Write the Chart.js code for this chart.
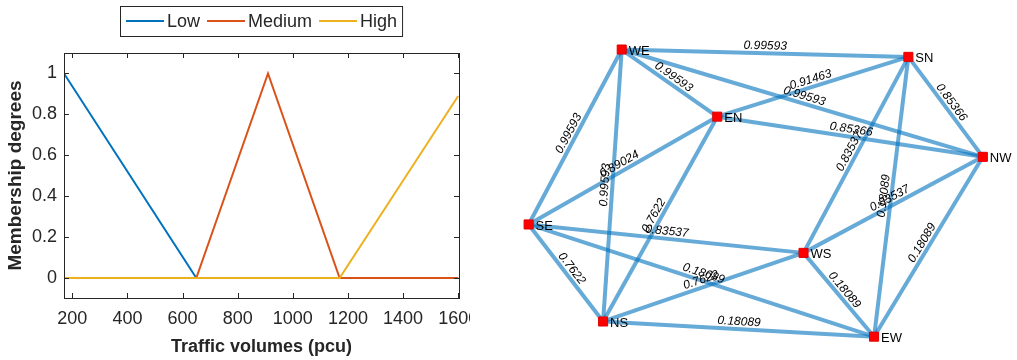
<!DOCTYPE html>
<html>
<head>
<meta charset="utf-8">
<script src="https://cdn.jsdelivr.net/npm/chart.js@4.4.1/dist/chart.umd.min.js"></script>
<style>
  html, body { margin: 0; padding: 0; background: #fff; }
  #wrap { position: relative; width: 1017px; height: 360px; overflow: hidden; }
  #mfChart { position: absolute; left: 0; top: 0; }
  #graphChart { position: absolute; left: 480px; top: 0; }
</style>
</head>
<body>
<div id="wrap">
  <canvas id="mfChart" width="470" height="360"></canvas>
  <canvas id="graphChart" width="537" height="360"></canvas>
</div>
<script>
// membership functions (left panel)
const seriesNames = ['Low', 'Medium', 'High'];
const lowX = [170, 650, 1600];
const lowY = [1, 0, 0];
const mediumX = [170, 650, 910, 1170, 1600];
const mediumY = [0, 0, 1, 0, 0];
const highX = [170, 1170, 1600];
const highY = [0, 0, 0.89];
const xTicks = [200, 400, 600, 800, 1000, 1200, 1400, 1600];
const yTicks = [0, 0.2, 0.4, 0.6, 0.8, 1];

// graph (right panel)
const nodeNames = ['WE', 'SN', 'EN', 'NW', 'SE', 'WS', 'NS', 'EW'];
const nodeX = [2.28, 8.13, 4.23, 9.65, 0.38, 5.99, 1.90, 7.43];
const nodeY = [6.03, 5.88, 4.66, 3.84, 2.46, 1.88, 0.48, 0.17];
const edgeFrom = ['WE', 'WE', 'WE', 'WE', 'WE', 'EN', 'EN', 'EN', 'EN', 'SN', 'SN', 'SN', 'SE', 'NS', 'NW', 'NW', 'WS', 'NS', 'SE', 'SE'];
const edgeTo   = ['SN', 'EN', 'NW', 'SE', 'NS', 'SN', 'NW', 'SE', 'NS', 'NW', 'WS', 'EW', 'WS', 'WS', 'WS', 'EW', 'EW', 'EW', 'NS', 'EW'];
const edgeWeights = [0.99593, 0.99593, 0.99593, 0.99593, 0.99593, 0.91463, 0.85366, 0.89024, 0.7622, 0.85366,
                     0.83537, 0.18089, 0.83537, 0.7622, 0.83537, 0.18089, 0.18089, 0.18089, 0.7622, 0.18089];

const colors = ['#0072BD', '#D95319', '#EDB120'];
const axisColor = '#262626';
Chart.defaults.font.family = "'Liberation Sans', Arial, sans-serif";
Chart.defaults.color = axisColor;

function toPoints(xs, ys) {
    return xs.map((x, i) => ({ x: x, y: ys[i] }));
}

const boxAndLegend = {
    id: 'boxAndLegend',
    afterDraw(chart) {
        const ctx = chart.ctx;
        const a = chart.chartArea;
        const xs = chart.scales.x, ys = chart.scales.y;
        ctx.save();
        ctx.strokeStyle = axisColor;
        ctx.lineWidth = 1;
        ctx.strokeRect(Math.round(a.left) + 0.5, Math.round(a.top) + 0.5,
            Math.round(a.right - a.left), Math.round(a.bottom - a.top));
        ctx.beginPath();
        xTicks.forEach(v => {
            const px = Math.round(xs.getPixelForValue(v)) + 0.5;
            if (px > a.right) return;
            ctx.moveTo(px, a.bottom); ctx.lineTo(px, a.bottom - 5);
            ctx.moveTo(px, a.top); ctx.lineTo(px, a.top + 5);
        });
        yTicks.forEach(v => {
            const py = Math.round(ys.getPixelForValue(v)) + 0.5;
            ctx.moveTo(a.left, py); ctx.lineTo(a.left + 5, py);
            ctx.moveTo(a.right, py); ctx.lineTo(a.right - 5, py);
        });
        ctx.stroke();

        // legend box
        ctx.font = "18px 'Liberation Sans', Arial, sans-serif";
        ctx.textBaseline = 'middle';
        const sample = 38, gap = 3, itemGap = 7;
        let x = 126;
        const cy = 21;
        const items = seriesNames.map((name, i) => {
            const w = ctx.measureText(name).width;
            const item = { name, color: colors[i], x, w };
            x += sample + gap + w + itemGap;
            return item;
        });
        const boxRight = x - itemGap + 5;
        ctx.fillStyle = '#fff';
        ctx.fillRect(120.5, 6.5, boxRight - 120, 30);
        ctx.strokeStyle = axisColor;
        ctx.strokeRect(120.5, 6.5, boxRight - 120, 30);
        items.forEach(it => {
            ctx.strokeStyle = it.color;
            ctx.lineWidth = 2;
            ctx.beginPath();
            ctx.moveTo(it.x, cy); ctx.lineTo(it.x + sample, cy);
            ctx.stroke();
            ctx.fillStyle = axisColor;
            ctx.fillText(it.name, it.x + sample + gap, cy + 1);
        });
        ctx.restore();
    }
};

// order: High drawn on top, Low at the bottom (like MATLAB plot order)
new Chart(document.getElementById('mfChart').getContext('2d'), {
    type: 'line',
    data: {
        datasets: [
            { label: 'Low', data: toPoints(lowX, lowY), borderColor: colors[0], order: 2 },
            { label: 'Medium', data: toPoints(mediumX, mediumY), borderColor: colors[1], order: 1 },
            { label: 'High', data: toPoints(highX, highY), borderColor: colors[2], order: 0 }
        ].map(d => Object.assign(d, { borderWidth: 2, pointRadius: 0, tension: 0, fill: false }))
    },
    options: {
        responsive: false,
        animation: false,
        layout: { padding: { top: 53, right: 11, left: 0, bottom: 0 } },
        plugins: { legend: { display: false }, tooltip: { enabled: false } },
        scales: {
            x: {
                type: 'linear',
                min: 170,
                max: 1603,
                afterBuildTicks: s => { s.ticks = xTicks.map(v => ({ value: v })); },
                afterFit: s => { s.height = 62; s.paddingLeft = 0; s.paddingRight = 0; },
                grid: { display: false, drawTicks: false },
                border: { display: false },
                ticks: { font: { size: 18 }, padding: 10, maxRotation: 0, autoSkip: false, color: axisColor, callback: v => String(v) },
                title: { display: true, text: 'Traffic volumes (pcu)', font: { size: 18, weight: 'bold' }, color: axisColor, padding: { top: 0, bottom: 2 } }
            },
            y: {
                type: 'linear',
                min: -0.098,
                max: 1.1,
                afterBuildTicks: s => { s.ticks = yTicks.map(v => ({ value: v })); },
                afterFit: s => { s.width = 64; s.paddingTop = 0; s.paddingBottom = 0; },
                grid: { display: false, drawTicks: false },
                border: { display: false },
                ticks: { font: { size: 18 }, padding: 7, color: axisColor, callback: v => String(Math.round(v * 10) / 10) },
                title: { display: true, text: 'Membership degrees', font: { size: 19, weight: 'bold' }, color: axisColor, padding: { top: 4, bottom: 0 } }
            }
        }
    },
    plugins: [boxAndLegend]
});

// ---- graph panel ----
const nodeIndex = name => nodeNames.indexOf(name);

const graphLabels = {
    id: 'graphLabels',
    afterDatasetsDraw(chart) {
        const ctx = chart.ctx;
        const xs = chart.scales.x, ys = chart.scales.y;
        ctx.save();
        ctx.fillStyle = '#000';
        ctx.font = "italic 12px 'Liberation Sans', Arial, sans-serif";
        ctx.textAlign = 'center';
        ctx.textBaseline = 'alphabetic';
        edgeFrom.forEach((f, i) => {
            const a = nodeIndex(f), b = nodeIndex(edgeTo[i]);
            const x1 = xs.getPixelForValue(nodeX[a]), y1 = ys.getPixelForValue(nodeY[a]);
            const x2 = xs.getPixelForValue(nodeX[b]), y2 = ys.getPixelForValue(nodeY[b]);
            let ang = Math.atan2(y2 - y1, x2 - x1);
            if (ang > Math.PI / 2) ang -= Math.PI;
            if (ang < -Math.PI / 2) ang += Math.PI;
            ctx.save();
            ctx.translate((x1 + x2) / 2, (y1 + y2) / 2);
            ctx.rotate(ang);
            ctx.fillText(String(edgeWeights[i]), 0, -4);
            ctx.restore();
        });
        ctx.font = "13px 'Liberation Sans', Arial, sans-serif";
        ctx.textAlign = 'left';
        ctx.textBaseline = 'middle';
        nodeNames.forEach((n, i) => {
            ctx.fillText(n, xs.getPixelForValue(nodeX[i]) + 7, ys.getPixelForValue(nodeY[i]) + 2);
        });
        ctx.restore();
    }
};

const edgeSets = edgeFrom.map((f, i) => {
    const a = nodeIndex(f), b = nodeIndex(edgeTo[i]);
    return {
        data: [{ x: nodeX[a], y: nodeY[a] }, { x: nodeX[b], y: nodeY[b] }],
        showLine: true,
        borderColor: 'rgba(0, 114, 189, 0.6)',
        borderWidth: 4,
        pointRadius: 0,
        clip: false,
        order: 1
    };
});

new Chart(document.getElementById('graphChart').getContext('2d'), {
    type: 'scatter',
    data: {
        datasets: edgeSets.concat([{
            data: toPoints(nodeX, nodeY),
            pointStyle: 'rect',
            pointRadius: 6.4,
            backgroundColor: '#ff0000',
            borderColor: '#e00000',
            borderWidth: 1,
            clip: false,
            order: 0
        }])
    },
    options: {
        responsive: false,
        animation: false,
        layout: { padding: { left: 30, right: 17, top: 35, bottom: 15 } },
        plugins: { legend: { display: false }, tooltip: { enabled: false } },
        scales: {
            x: { type: 'linear', min: 0, max: 10, display: false },
            y: { type: 'linear', min: 0, max: 6.3265, display: false }
        }
    },
    plugins: [graphLabels]
});
</script>
</body>
</html>
